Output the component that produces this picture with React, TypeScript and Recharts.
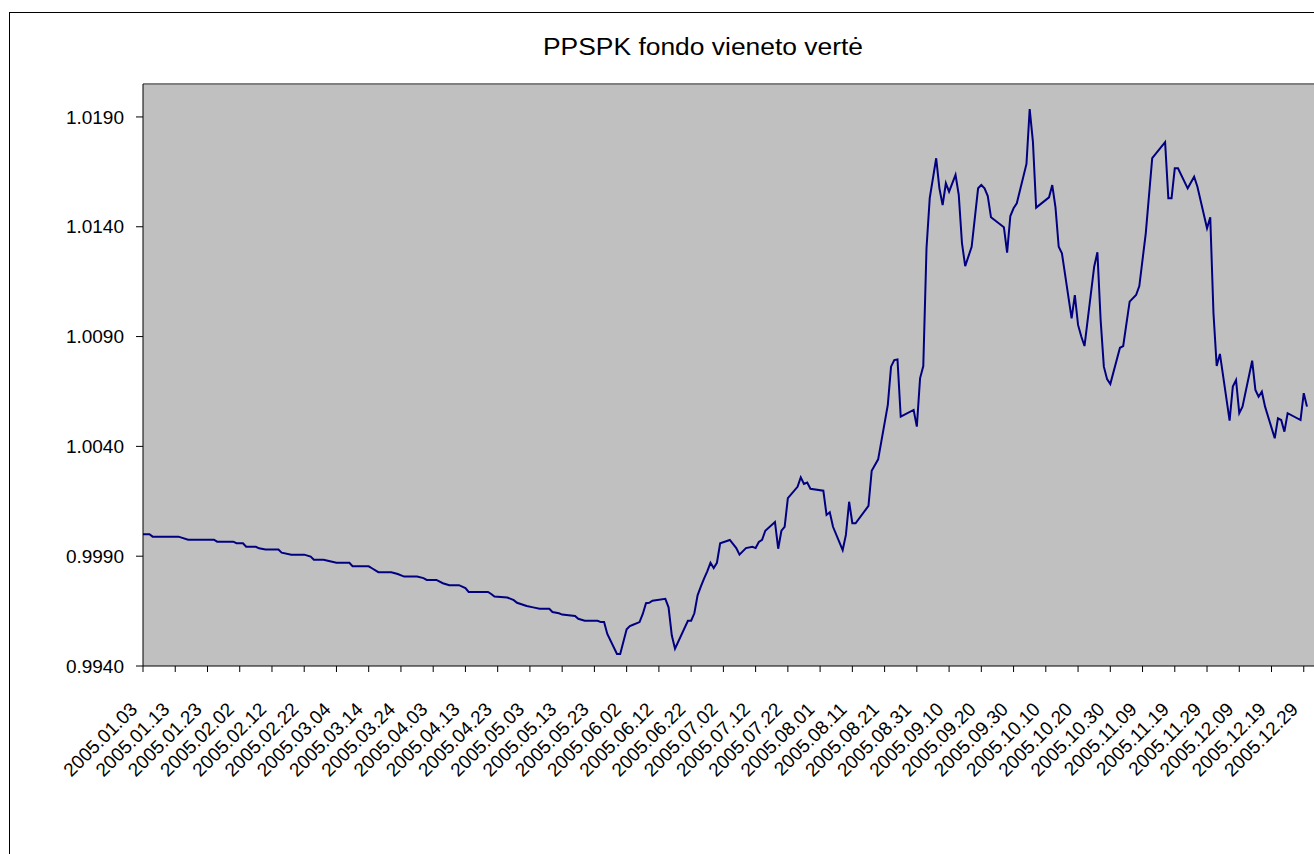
import React from "react";
import {
  LineChart,
  Line,
  XAxis,
  YAxis,
  CartesianGrid,
  ReferenceLine,
} from "recharts";

const TITLE = "PPSPK fondo vieneto vertė";

// vertices
const dates = [
  "2005.01.03", "2005.01.05", "2005.01.06", "2005.01.14", "2005.01.17", "2005.01.25",
  "2005.01.26", "2005.01.31", "2005.02.01", "2005.02.03", "2005.02.04", "2005.02.07",
  "2005.02.08", "2005.02.10", "2005.02.14", "2005.02.15", "2005.02.18", "2005.02.22",
  "2005.02.24", "2005.02.25", "2005.02.28", "2005.03.02", "2005.03.04", "2005.03.08",
  "2005.03.09", "2005.03.14", "2005.03.15", "2005.03.17", "2005.03.21", "2005.03.23",
  "2005.03.25", "2005.03.29", "2005.03.31", "2005.04.01", "2005.04.04", "2005.04.06",
  "2005.04.08", "2005.04.11", "2005.04.13", "2005.04.14", "2005.04.20", "2005.04.21",
  "2005.04.22", "2005.04.26", "2005.04.28", "2005.04.29", "2005.05.02", "2005.05.04",
  "2005.05.06", "2005.05.09", "2005.05.10", "2005.05.12", "2005.05.13", "2005.05.17",
  "2005.05.18", "2005.05.20", "2005.05.24", "2005.05.25", "2005.05.26", "2005.05.27",
  "2005.05.30", "2005.05.31", "2005.06.02", "2005.06.03", "2005.06.04", "2005.06.06",
  "2005.06.07", "2005.06.08", "2005.06.09", "2005.06.10", "2005.06.14", "2005.06.15",
  "2005.06.16", "2005.06.17", "2005.06.21", "2005.06.22", "2005.06.23", "2005.06.24",
  "2005.06.25", "2005.06.26", "2005.06.27", "2005.06.28", "2005.06.29", "2005.06.30",
  "2005.07.01", "2005.07.04", "2005.07.06", "2005.07.07", "2005.07.09", "2005.07.11",
  "2005.07.12", "2005.07.13", "2005.07.14", "2005.07.15", "2005.07.18", "2005.07.19",
  "2005.07.20", "2005.07.21", "2005.07.22", "2005.07.25", "2005.07.26", "2005.07.27",
  "2005.07.28", "2005.07.29", "2005.08.02", "2005.08.03", "2005.08.04", "2005.08.05",
  "2005.08.08", "2005.08.09", "2005.08.10", "2005.08.11", "2005.08.12", "2005.08.16",
  "2005.08.17", "2005.08.19", "2005.08.22", "2005.08.23", "2005.08.24", "2005.08.25",
  "2005.08.26", "2005.08.30", "2005.08.31", "2005.09.01", "2005.09.02", "2005.09.03",
  "2005.09.04", "2005.09.06", "2005.09.07", "2005.09.08", "2005.09.09", "2005.09.10",
  "2005.09.12", "2005.09.13", "2005.09.14", "2005.09.15", "2005.09.17", "2005.09.19",
  "2005.09.20", "2005.09.21", "2005.09.22", "2005.09.23", "2005.09.27", "2005.09.28",
  "2005.09.29", "2005.09.30", "2005.10.01", "2005.10.04", "2005.10.05", "2005.10.06",
  "2005.10.07", "2005.10.11", "2005.10.12", "2005.10.13", "2005.10.14", "2005.10.15",
  "2005.10.18", "2005.10.19", "2005.10.20", "2005.10.21", "2005.10.22", "2005.10.25",
  "2005.10.26", "2005.10.27", "2005.10.28", "2005.10.29", "2005.10.30", "2005.11.02",
  "2005.11.03", "2005.11.05", "2005.11.07", "2005.11.08", "2005.11.10", "2005.11.12",
  "2005.11.16", "2005.11.17", "2005.11.18", "2005.11.19", "2005.11.20", "2005.11.23",
  "2005.11.25", "2005.11.26", "2005.11.29", "2005.11.30", "2005.12.01", "2005.12.02",
  "2005.12.03", "2005.12.06", "2005.12.07", "2005.12.08", "2005.12.09", "2005.12.10",
  "2005.12.13", "2005.12.14", "2005.12.15", "2005.12.16", "2005.12.17", "2005.12.20",
  "2005.12.21", "2005.12.22", "2005.12.23", "2005.12.24", "2005.12.28", "2005.12.29",
  "2005.12.30",
];

const values = [
  1.0, 1.0, 0.99989, 0.99989, 0.99975, 0.99975,
  0.99966, 0.99966, 0.99959, 0.99959, 0.99943, 0.99943,
  0.99936, 0.9993, 0.9993, 0.99916, 0.99907, 0.99907,
  0.99898, 0.99884, 0.99884, 0.99877, 0.9987, 0.9987,
  0.99854, 0.99854, 0.99845, 0.99827, 0.99827, 0.99819,
  0.99807, 0.99807, 0.998, 0.99792, 0.99792, 0.99777,
  0.99768, 0.99768, 0.99755, 0.99737, 0.99737, 0.99728,
  0.99716, 0.99712, 0.997, 0.99688, 0.99673, 0.99667,
  0.99661, 0.99661, 0.99646, 0.9964, 0.99634, 0.99628,
  0.99615, 0.99606, 0.99606, 0.996, 0.996, 0.99546,
  0.99455, 0.99455, 0.99567, 0.99582, 0.99588, 0.996,
  0.99637, 0.99686, 0.99688, 0.99697, 0.99706, 0.99667,
  0.9954, 0.99479, 0.99606, 0.99606, 0.9964, 0.99722,
  0.99761, 0.99798, 0.99831, 0.9987, 0.99846, 0.9987,
  0.99959, 0.99974, 0.99937, 0.99907, 0.99937, 0.99943,
  0.99937, 0.99965, 0.99974, 1.00016, 1.00056, 0.99934,
  1.00016, 1.00034, 1.00164, 1.00216, 1.00259, 1.00229,
  1.00235, 1.00207, 1.00198, 1.00088, 1.001, 1.00034,
  0.99928, 0.99997, 1.00148, 1.0005, 1.0005, 1.00129,
  1.00289, 1.00341, 1.00589, 1.00763, 1.00793, 1.00796,
  1.00535, 1.00566, 1.0049, 1.0071, 1.00766, 1.01302,
  1.0153, 1.01712, 1.01575, 1.01499, 1.01598, 1.0156,
  1.01636, 1.01545, 1.01325, 1.01221, 1.01309, 1.01575,
  1.0159, 1.01575, 1.0154, 1.01443, 1.01398, 1.01282,
  1.01449, 1.01484, 1.01507, 1.01686, 1.01936, 1.01788,
  1.01487, 1.01534, 1.0159, 1.01488, 1.01309, 1.01279,
  1.00983, 1.01089, 1.00953, 1.009, 1.00857, 1.01218,
  1.01284, 1.00976, 1.00763, 1.00706, 1.00684, 1.00849,
  1.00857, 1.01059, 1.01089, 1.0113, 1.0137, 1.01712,
  1.01785, 1.0153, 1.0153, 1.01666, 1.01666, 1.01575,
  1.01628, 1.01583, 1.01393, 1.01443, 1.01006, 1.00766,
  1.00821, 1.00517, 1.00672, 1.00702, 1.00551, 1.00581,
  1.0079, 1.00657, 1.00626, 1.00649, 1.00581, 1.00437,
  1.00528, 1.0052, 1.00467, 1.00551, 1.0052, 1.00642,
  1.00581,
];

const xTickLabels = [
  "2005.01.03", "2005.01.13", "2005.01.23", "2005.02.02", "2005.02.12", "2005.02.22",
  "2005.03.04", "2005.03.14", "2005.03.24", "2005.04.03", "2005.04.13", "2005.04.23",
  "2005.05.03", "2005.05.13", "2005.05.23", "2005.06.02", "2005.06.12", "2005.06.22",
  "2005.07.02", "2005.07.12", "2005.07.22", "2005.08.01", "2005.08.11", "2005.08.21",
  "2005.08.31", "2005.09.10", "2005.09.20", "2005.09.30", "2005.10.10", "2005.10.20",
  "2005.10.30", "2005.11.09", "2005.11.19", "2005.11.29", "2005.12.09", "2005.12.19",
  "2005.12.29",
];

const yTicks = [0.994, 0.999, 1.004, 1.009, 1.014, 1.019];

const FONT = "'Liberation Sans', Arial, sans-serif";
const START = Date.UTC(2005, 0, 3);

// days since the first date, so the axis is spaced like a date axis
const toDay = (s: string) => {
  const [y, m, d] = s.split(".").map(Number);
  return Math.round((Date.UTC(y, m - 1, d) - START) / 86400000);
};

const data = dates.map((d, i) => ({ day: toDay(d), date: d, value: values[i] }));
const tickDays = xTickLabels.map(toDay);
const labelByDay = new Map(tickDays.map((d, i) => [d, xTickLabels[i]]));

function DateTick({ x, y, payload }: any) {
  const ax = x - 14;
  const ay = y + 27;
  return (
    <text
      x={ax}
      y={ay}
      dy="0.71em"
      textAnchor="end"
      transform={`rotate(-45, ${ax}, ${ay})`}
      fontSize={19}
      fontFamily={FONT}
      fill="#000"
    >
      {labelByDay.get(payload.value) ?? ""}
    </text>
  );
}

export default function App() {
  // fixed to the viewport: the chart is cropped on the right and bottom like the reference
  return (
    <div
      style={{
        position: "fixed",
        left: 0,
        top: 0,
        width: 1314,
        height: 854,
        overflow: "hidden",
        background: "#fff",
      }}
    >
      <div
        style={{
          position: "absolute",
          left: 9,
          top: 12,
          width: 1500,
          height: 1000,
          border: "1px solid #000",
        }}
      />
      <svg
        width={1314}
        height={80}
        style={{ position: "absolute", left: 0, top: 0 }}
      >
        <text
          x={703}
          y={55}
          textAnchor="middle"
          fontSize={23}
          fontFamily={FONT}
          fill="#000"
          textLength={320}
          lengthAdjust="spacingAndGlyphs"
        >
          {TITLE}
        </text>
      </svg>
      <div style={{ position: "absolute", left: 8, top: 8, width: 1328 }}>
        <LineChart
          width={1328}
          height={900}
          data={data}
          margin={{ top: 76, right: 0, bottom: 0, left: 0 }}
        >
          <CartesianGrid
            fill="#C0C0C0"
            stroke="none"
            horizontal={false}
            vertical={false}
          />
          <ReferenceLine y={1.0205} stroke="#808080" strokeWidth={2} />
          <XAxis
            dataKey="day"
            type="number"
            domain={[0, 370]}
            ticks={tickDays}
            interval={0}
            height={242}
            tickSize={6}
            axisLine={{ stroke: "#000", strokeWidth: 1 }}
            tickLine={{ stroke: "#000" }}
            tick={(p: any) => <DateTick {...p} />}
          />
          <YAxis
            type="number"
            domain={[0.994, 1.0205]}
            ticks={yTicks}
            interval={0}
            width={135}
            tickSize={7}
            tickMargin={12}
            axisLine={{ stroke: "#000", strokeWidth: 1 }}
            tickLine={{ stroke: "#000" }}
            tick={{ fontSize: 19, fill: "#000", fontFamily: FONT }}
            tickFormatter={(v: number) => v.toFixed(4)}
          />
          <Line
            type="linear"
            dataKey="value"
            stroke="#000080"
            strokeWidth={2}
            dot={false}
            isAnimationActive={false}
          />
        </LineChart>
      </div>
    </div>
  );
}
